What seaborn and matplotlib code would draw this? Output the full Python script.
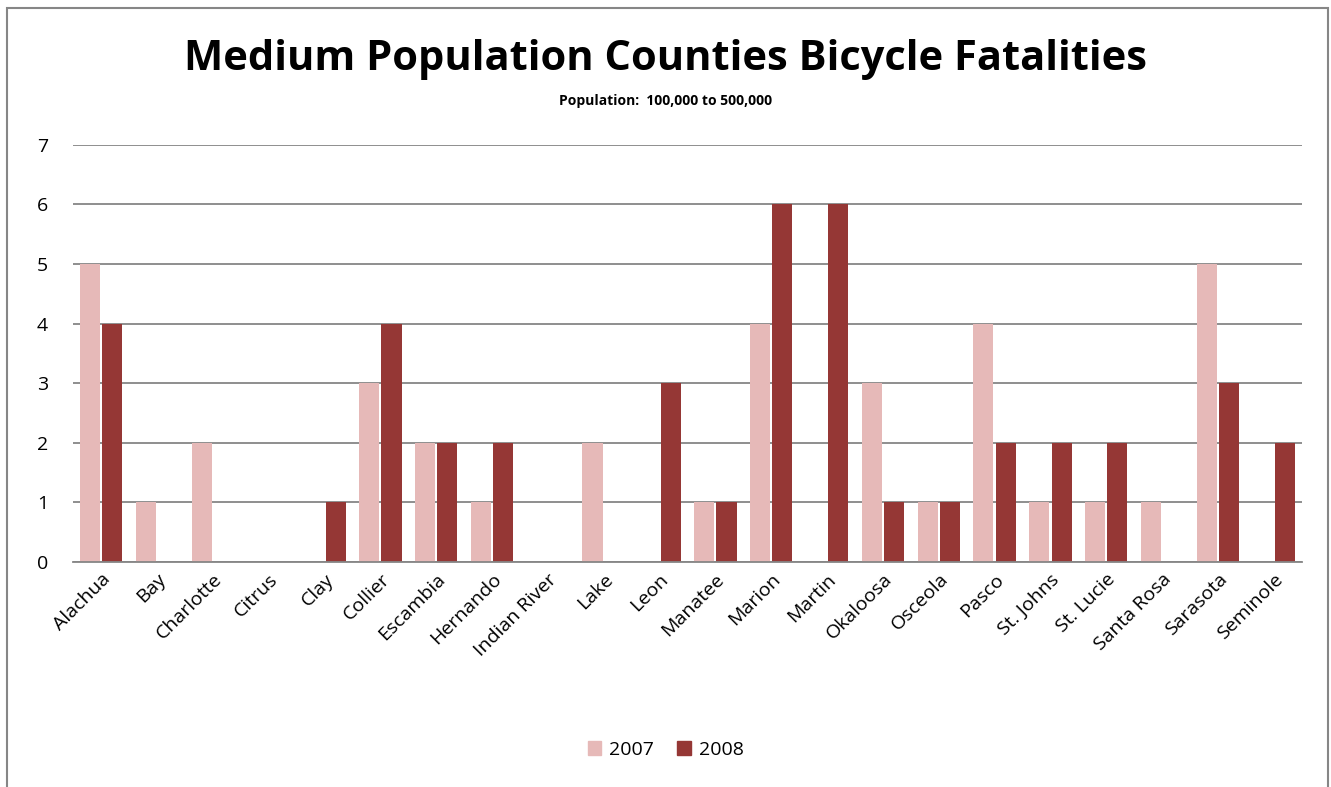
import numpy as np
import pandas as pd
import seaborn as sns
import matplotlib.pyplot as plt
from matplotlib.patches import Rectangle, Patch

# =========================
# DATA
# =========================
counties = ["Alachua", "Bay", "Charlotte", "Citrus", "Clay", "Collier", "Escambia",
            "Hernando", "Indian River", "Lake", "Leon", "Manatee", "Marion", "Martin",
            "Okaloosa", "Osceola", "Pasco", "St. Johns", "St. Lucie", "Santa Rosa",
            "Sarasota", "Seminole"]
fatal_2007 = [5, 1, 2, 0, 0, 3, 2, 1, 0, 2, 0, 1, 4, 0, 3, 1, 4, 1, 1, 1, 5, 0]
fatal_2008 = [4, 0, 0, 0, 1, 4, 2, 2, 0, 0, 3, 1, 6, 6, 1, 1, 2, 2, 2, 0, 3, 2]
years = ["2007", "2008"]
colors = ["#E6B9B8", "#953735"]

df = pd.DataFrame({
    "County": counties * 2,
    "Year": [years[0]] * len(counties) + [years[1]] * len(counties),
    "Fatalities": fatal_2007 + fatal_2008,
})

# =========================
# PLOT
# =========================
sns.set_style("white")
plt.rcParams["font.family"] = ["Open Sans", "DejaVu Sans"]
plt.rcParams["text.color"] = "black"
plt.rcParams["xtick.color"] = "black"
plt.rcParams["ytick.color"] = "black"

fig = plt.figure(figsize=(13.31, 7.87), dpi=100)
ax = fig.add_axes([0.055, 0.286, 0.923, 0.530])

sns.barplot(data=df, x="County", y="Fatalities", hue="Year",
            palette=colors, width=0.8, gap=0.1, legend=False,
            saturation=1, linewidth=0, ax=ax)

ax.set_ylim(0, 7)
ax.set_yticks(range(0, 8))
ax.yaxis.grid(True, color="#868686", linewidth=1.3)
ax.set_axisbelow(True)
for s in ["left", "right", "top"]:
    ax.spines[s].set_visible(False)
ax.spines["bottom"].set_color("#868686")
ax.spines["bottom"].set_linewidth(1.3)
ax.tick_params(axis="y", length=0, labelsize=14, pad=18)
ax.tick_params(axis="x", length=0, labelsize=14, pad=6)
plt.setp(ax.get_xticklabels(), rotation=45, ha="right", rotation_mode="anchor")
ax.set_xlabel("")
ax.set_ylabel("")

fig.text(0.5, 0.925, "Medium Population Counties Bicycle Fatalities",
         ha="center", va="center", fontsize=30, fontweight="bold")
fig.text(0.5, 0.872, "Population:  100,000 to 500,000",
         ha="center", va="center", fontsize=10, fontweight="bold")

handles = [Patch(color=c, label=y) for c, y in zip(colors, years)]
fig.legend(handles=handles, loc="center", bbox_to_anchor=(0.5, 0.047), ncol=2,
           frameon=False, fontsize=14, handlelength=0.7, handleheight=0.7,
           columnspacing=1.2, handletextpad=0.4)

fig.patches.append(Rectangle((0.005, -0.01), 0.993, 1.0, transform=fig.transFigure,
                             fill=False, edgecolor="#868686", linewidth=1.5))

fig.savefig("out.png", dpi=100)
